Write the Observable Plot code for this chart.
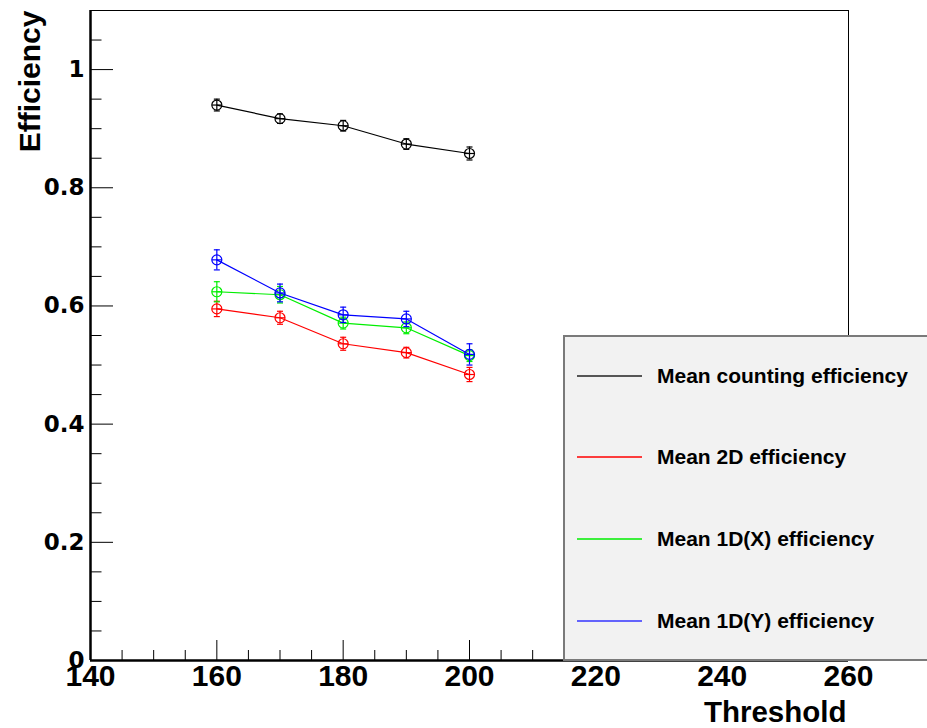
<!DOCTYPE html>
<html>
<head>
<meta charset="utf-8">
<script src="https://cdn.jsdelivr.net/npm/d3@7"></script>
<script src="https://cdn.jsdelivr.net/npm/@observablehq/plot@0.6"></script>
<style>
  body { margin: 0; background: #fff; }
  #wrap { position: relative; width: 927px; height: 728px; overflow: hidden; background: #fff; }
  #legend { position: absolute; left: 0; top: 0; pointer-events: none; }
</style>
</head>
<body>
<div id="wrap"><div id="chart"></div></div>
<script>
// ---- data ----
const thresholds = [160, 170, 180, 190, 200];

const countingEff = [0.940, 0.917, 0.905, 0.874, 0.858];
const countingErr = [0.010, 0.008, 0.009, 0.009, 0.011];

const eff2D = [0.595, 0.580, 0.536, 0.521, 0.484];
const eff2DErr = [0.013, 0.011, 0.011, 0.009, 0.012];

const eff1DX = [0.624, 0.619, 0.571, 0.563, 0.516];
const eff1DXErr = [0.017, 0.014, 0.010, 0.010, 0.010];

const eff1DY = [0.678, 0.622, 0.585, 0.578, 0.518];
const eff1DYErr = [0.017, 0.015, 0.013, 0.013, 0.018];

const seriesNames = ["Mean counting efficiency", "Mean 2D efficiency", "Mean 1D(X) efficiency", "Mean 1D(Y) efficiency"];
const seriesColors = ["#000000", "#ff0000", "#00ee00", "#0000ff"];
const legendColors = ["#222222", "#ff0000", "#00ee00", "#3333ff"];

const xTickLabels = [140, 160, 180, 200, 220, 240, 260];
const xMinorTicks = d3.range(145, 260, 5).filter(v => v % 20 !== 0);
const yTickLabels = [0, 0.2, 0.4, 0.6, 0.8, 1];
const yMinorTicks = d3.range(1, 22).map(i => i * 0.05).filter((v, i) => (i + 1) % 4 !== 0);

// ---- layout ----
const W = 927, H = 728, mL = 90, mR = 79, mT = 10, mB = 68;
const plotW = W - mL - mR, plotH = H - mT - mB;

const allValues = [countingEff, eff2D, eff1DX, eff1DY];
const allErrors = [countingErr, eff2DErr, eff1DXErr, eff1DYErr];

const capSym = { draw(ctx, size) { const r = Math.sqrt(size / Math.PI); ctx.moveTo(-r, 0); ctx.lineTo(r, 0); } };

const seriesMarks = allValues.flatMap((vals, s) => {
  const rows = thresholds.map((t, i) => ({ x: t, y: vals[i], lo: vals[i] - allErrors[s][i], hi: vals[i] + allErrors[s][i] }));
  const c = seriesColors[s];
  return [
    Plot.line(rows, { x: "x", y: "y", stroke: c, strokeWidth: 1.2 }),
    Plot.ruleX(rows, { x: "x", y1: "lo", y2: "hi", stroke: c, strokeWidth: 1.2 }),
    Plot.dot(rows, { x: "x", y: "lo", symbol: capSym, r: 3, stroke: c, strokeWidth: 1.2 }),
    Plot.dot(rows, { x: "x", y: "hi", symbol: capSym, r: 3, stroke: c, strokeWidth: 1.2 }),
    Plot.dot(rows, { x: "x", y: "y", r: 5, stroke: c, fill: "none", strokeWidth: 1.2 }),
    Plot.dot(rows, { x: "x", y: "y", symbol: capSym, r: 5, stroke: c, strokeWidth: 1.2 })
  ];
});

const chart = Plot.plot({
  width: W, height: H,
  marginLeft: mL, marginRight: mR, marginTop: mT, marginBottom: mB,
  style: { fontFamily: "Liberation Sans, Arial, sans-serif", background: "white", color: "black", overflow: "visible" },
  x: { domain: [140, 260] },
  y: { domain: [0, 1.1] },
  marks: [
    Plot.frame({ stroke: "black", strokeWidth: 1 }),
    Plot.tickX(xTickLabels, { x: d => d, insetTop: plotH - 20, stroke: "black", strokeWidth: 1 }),
    Plot.tickX(xMinorTicks, { x: d => d, insetTop: plotH - 10, stroke: "black", strokeWidth: 1 }),
    Plot.tickY(yTickLabels, { y: d => d, insetRight: plotW - 23, stroke: "black", strokeWidth: 1 }),
    Plot.tickY(yMinorTicks, { y: d => d, insetRight: plotW - 11.5, stroke: "black", strokeWidth: 1 }),
    Plot.ruleX([140], { strokeWidth: 2.5, stroke: "black" }),
    Plot.ruleY([0], { strokeWidth: 2.5, stroke: "black" }),
    Plot.axisX({ ticks: xTickLabels, tickSize: 0, tickPadding: 4, label: null, fontSize: 30, fontWeight: "bold", fontFamily: "Liberation Sans, Arial, sans-serif", tickFormat: d => String(d) }),
    Plot.axisY({ ticks: yTickLabels, tickSize: 0, tickPadding: 6, label: null, fontSize: 23, fontWeight: "bold", fontFamily: "DejaVu Sans, sans-serif", tickFormat: d => d === 0 ? "0" : d === 1 ? "1" : d.toFixed(1) }),
    Plot.text(["Efficiency"], { text: d => d, frameAnchor: "top-left", dx: -72, rotate: -90, textAnchor: "end", fontSize: 30, fontWeight: "bold" }),
    Plot.text(["Threshold"], { text: d => d, frameAnchor: "bottom-right", dx: -2, dy: 61, textAnchor: "end", fontSize: 29.5, fontWeight: "bold" }),
    ...seriesMarks
  ]
});
document.getElementById("chart").appendChild(chart);

// ---- legend (SVG overlay) ----
const legendY = [376, 457, 539, 621];
const svg = d3.select("#wrap").append("svg")
  .attr("id", "legend").attr("width", W).attr("height", H);
svg.append("rect")
  .attr("x", 564).attr("y", 336).attr("width", 400).attr("height", 324)
  .attr("fill", "#f2f2f2").attr("stroke", "#7a7a7a").attr("stroke-width", 2);
seriesNames.forEach((name, i) => {
  svg.append("line")
    .attr("x1", 577).attr("x2", 642).attr("y1", legendY[i]).attr("y2", legendY[i])
    .attr("stroke", legendColors[i]).attr("stroke-width", 1.6);
  svg.append("text")
    .attr("x", 657).attr("y", legendY[i]).attr("dy", "0.35em")
    .attr("font-family", "Liberation Sans, Arial, sans-serif").attr("font-weight", "bold")
    .attr("font-size", 21).attr("fill", "#000")
    .text(name);
});
</script>
</body>
</html>
